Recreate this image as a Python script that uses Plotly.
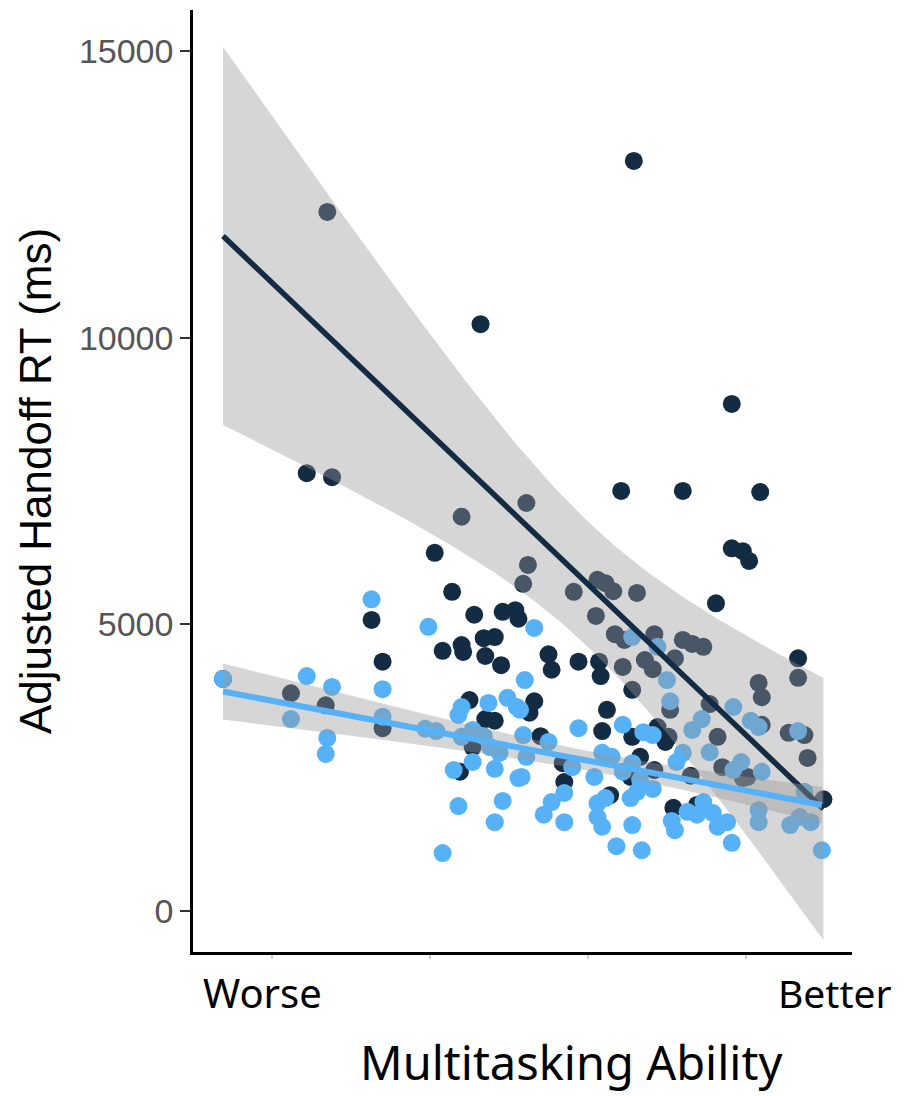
import numpy as np
import plotly.graph_objects as go

# ---- data ----
dark_x = [-0.65, 0.32, 1.29, 1.91, -0.78, -0.62, 1.21, 1.60, 2.09, 1.91,
          1.98, 2.02, 0.61, 0.62, 0.59, 0.20, 0.03, 0.14, -0.37, 0.28,
          0.46, 0.54, 0.56, 0.91, 1.06, 1.11, 1.16, 1.31, 1.81, 1.05,
          0.08, 0.20, 0.21, 0.34, 0.41, 0.35, 0.45, -0.30, 0.75, 0.77,
          0.94, 1.07, 1.08, 1.17, 1.23, 1.22, 1.28, 1.42, 1.60, 1.66,
          1.73, 1.36, 1.41, 1.55, 1.52, 1.77, 2.08, 2.10, 2.33, 2.33,
          2.39, -0.88, -0.66, -0.30, 0.25, 0.35, 0.41, 0.66, 0.63, 1.12,
          0.70, 1.09, 1.28, 1.44, 1.51, 1.82, 2.27, 2.37, 2.10, 0.27,
          0.19, 0.84, 0.85, 1.27, 1.33, 1.42, 1.65, 1.85, 2.01, 2.49,
          1.14, 1.54, 1.69, 1.49, 1.98, -1.31]
dark_y = [12200, 10240, 13090, 8850, 7640, 7570, 7330, 7330, 7310, 6330,
          6280, 6110, 7120, 6040, 5710, 6880, 6250, 5570, 5080, 5170,
          5220, 5250, 5100, 5570, 5780, 5720, 5580, 5550, 5370, 5150,
          4540, 4640, 4520, 4760, 4780, 4450, 4290, 4350, 4480, 4210,
          4350, 4350, 4100, 4830, 4730, 4260, 3860, 4830, 4730, 4660,
          4610, 4380, 4220, 4410, 3510, 3610, 3980, 3730, 4410, 4070,
          2670, 3800, 3590, 3190, 3680, 3350, 3320, 3660, 3460, 3510,
          3050, 3140, 3040, 3210, 3040, 3040, 3110, 3070, 3250, 2860,
          2430, 2580, 2250, 2340, 2690, 2460, 2360, 2510, 2340, 1950,
          2020, 1800, 1850, 2950, 2320, 4050]

light_x = [-1.31, -0.78, -0.62, -0.30, -0.37, -0.01, -0.88, -0.30, -0.65, -0.66,
           0.04, 0.20, 0.18, 0.37, 0.49, 0.55, 0.20, 0.27, 0.34, 0.38,
           0.44, 0.27, 0.15, 0.41, 0.56, 0.18, 0.46, 0.41, 0.08, -0.03,
           0.66, 0.60, 0.57, 0.59, 0.61, 0.75, 0.58, 0.90, 0.85, 0.77,
           0.72, 0.85, 0.94, 1.22, 1.28, 1.44, 1.50, 1.52, 1.92, 1.35,
           1.41, 1.66, 1.72, 2.03, 2.08, 2.33, 1.09, 1.15, 1.04, 1.22,
           1.28, 1.41, 1.60, 1.56, 1.77, 1.92, 1.97, 2.10, 1.06, 1.11,
           1.06, 1.09, 1.18, 1.28, 1.34, 1.27, 1.31, 1.53, 1.55, 1.63,
           1.69, 1.73, 1.79, 1.82, 1.88, 1.91, 2.08, 2.08, 2.28, 2.34,
           2.41, 2.48, 2.37, 1.33]
light_y = [4050, 4100, 3910, 3870, 5440, 4960, 3350, 3390, 3020, 2740,
           3140, 3560, 3420, 3630, 3720, 3560, 3040, 3160, 3050, 2860,
           2760, 2600, 2460, 2480, 2320, 1830, 1920, 1550, 1010, 3180,
           4940, 4030, 3510, 3070, 2690, 2950, 2340, 2510, 2060, 1900,
           1680, 1550, 3190, 3250, 4780, 4610, 4030, 3660, 3560, 3120,
           3070, 3160, 3350, 3320, 3210, 3140, 2760, 2690, 2340, 2430,
           2580, 2130, 2760, 2600, 2770, 2460, 2600, 2430, 1880, 1970,
           1640, 1470, 1130, 1500, 1060, 1970, 2080, 1570, 1410, 1730,
           1680, 1900, 1710, 1470, 1550, 1190, 1760, 1550, 1500, 1640,
           1550, 1060, 2080, 2290]

# fitted trend lines (value at left / right end of the fit)
dark_fit_ends = [11780, 1780]
light_fit_ends = [3830, 1850]
# confidence band: [x of narrowest point, min half-width, growth per unit x]
dark_band = [1.0, 1095, 1347]
light_band = [1.1, 170, 190]

y_ticks = [0, 5000, 10000, 15000]
x_ticks = [-1, 0, 1, 2]

DARK = "#132B43"
LIGHT = "#56B1F7"
RIBBON = "rgba(153,153,153,0.4)"


def band(xs, ends, bpar):
    x0, x1 = min(xs), max(xs)
    grid = np.linspace(x0, x1, 80)
    fit = ends[0] + (ends[1] - ends[0]) * (grid - x0) / (x1 - x0)
    hw = np.sqrt(bpar[1] ** 2 + (bpar[2] * (grid - bpar[0])) ** 2)
    return grid, fit, fit - hw, fit + hw


fig = go.Figure()

fig.add_trace(go.Scatter(x=dark_x, y=dark_y, mode="markers",
                         marker=dict(color=DARK, size=18, line=dict(width=0)),
                         showlegend=False, hoverinfo="skip"))
fig.add_trace(go.Scatter(x=light_x, y=light_y, mode="markers",
                         marker=dict(color=LIGHT, size=18, line=dict(width=0)),
                         showlegend=False, hoverinfo="skip"))

for xs, ends, bp, col, w in [(dark_x, dark_fit_ends, dark_band, DARK, 5.5),
                             (light_x, light_fit_ends, light_band, LIGHT, 6)]:
    g, f, lo, hi = band(xs, ends, bp)
    fig.add_trace(go.Scatter(x=np.concatenate([g, g[::-1]]),
                             y=np.concatenate([hi, lo[::-1]]),
                             mode="lines", fill="toself", fillcolor=RIBBON,
                             line=dict(width=0), showlegend=False,
                             hoverinfo="skip"))
    fig.add_trace(go.Scatter(x=g, y=f, mode="lines",
                             line=dict(color=col, width=w),
                             showlegend=False, hoverinfo="skip"))

fig.update_layout(
    width=896, height=1088,
    margin=dict(l=185, r=52, t=2, b=144),
    paper_bgcolor="white", plot_bgcolor="white",
    font=dict(family="Liberation Sans, Arial, sans-serif", color="black"),
    xaxis=dict(range=[-1.5, 2.671], tickvals=x_ticks, showticklabels=False,
               ticks="outside", ticklen=4, tickcolor="#d0d0d0", tickwidth=1.5,
               showgrid=False, zeroline=False, showline=True,
               linecolor="black", linewidth=2.5),
    yaxis=dict(range=[-716, 15724], tickvals=y_ticks,
               ticktext=[str(v) for v in y_ticks],
               ticks="outside", ticklen=10, tickcolor="#333333", tickwidth=2,
               tickfont=dict(size=34, color="#555555",
                             family="Liberation Sans, Arial, sans-serif"),
               showgrid=False, zeroline=False, showline=True,
               linecolor="black", linewidth=2.5,
               title=dict(text="Adjusted Handoff RT (ms)", standoff=14,
                          font=dict(size=44, color="black",
                                    family="Liberation Sans, Arial, sans-serif"))),
    annotations=[
        dict(text="Worse", xref="paper", yref="paper", x=0.105, y=-0.0435,
             xanchor="center", yanchor="middle", showarrow=False,
             font=dict(size=40, family="Noto Sans", color="black")),
        dict(text="Better", xref="paper", yref="paper", x=0.974, y=-0.0435,
             xanchor="center", yanchor="middle", showarrow=False,
             font=dict(size=39, family="Noto Sans", color="black")),
        dict(text="Multitasking Ability", xref="paper", yref="paper",
             x=0.574, y=-0.117, xanchor="center", yanchor="middle",
             showarrow=False,
             font=dict(size=47, family="Noto Sans", color="black")),
    ],
)

fig.write_html("out.html")
